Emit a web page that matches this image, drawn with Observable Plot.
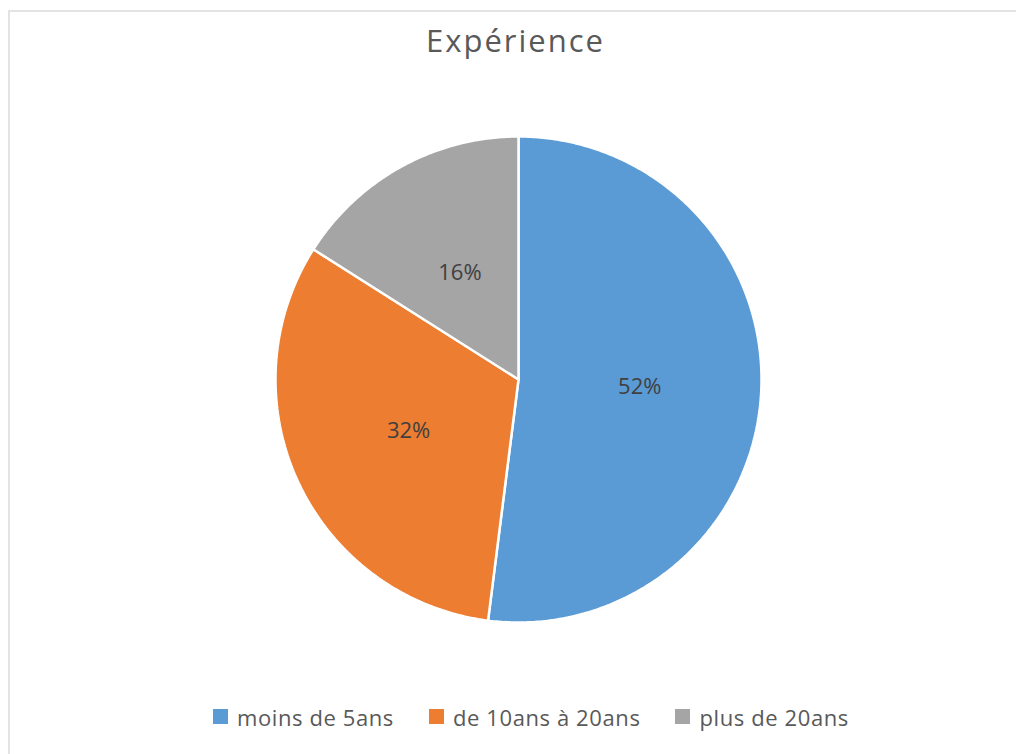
<!DOCTYPE html>
<html>
<head>
<meta charset="utf-8">
<script src="https://cdn.jsdelivr.net/npm/d3@7"></script>
<script src="https://cdn.jsdelivr.net/npm/@observablehq/plot@0.6"></script>
<style>
  body { margin: 0; background: #fff; font-family: "Open Sans", sans-serif; }
  #wrap { position: relative; width: 1016px; height: 754px; overflow: hidden; }
  #frame { position: absolute; left: 8px; top: 10px; width: 1100px; height: 900px;
           border-top: 2px solid #e3e3e3; border-left: 2px solid #e3e3e3; pointer-events: none; }
  #title { position: relative; height: 80px; line-height: 80px; text-align: left; padding-left: 426px;
           font-size: 31px; letter-spacing: 2px; color: #595959; box-sizing: border-box; }
  #chart svg { display: block; }
  #legend { position: relative; height: 74px; box-sizing: border-box; padding-left: 213px; padding-top: 20px; }
  .lg-swatch { margin-right: 35px !important; letter-spacing: 0.6px; }
  .lg-swatch > svg { margin-right: 9px !important; }
</style>
</head>
<body>
<div id="wrap">
  <div id="frame"></div>
  <div id="title">Expérience</div>
  <div id="chart"></div>
  <div id="legend"></div>
</div>
<script>
const categories = ["moins de 5ans", "de 10ans à 20ans", "plus de 20ans"];
const values = [52, 32, 16];
const colors = ["#5B9BD5", "#ED7D31", "#A5A5A5"];
const labels = ["52%", "32%", "16%"];

const data = categories.map((c, i) => ({category: c, value: values[i], label: labels[i]}));
const arcs = d3.pie().sort(null).value(d => d.value)(data);

// Build slice outlines from the pie angles (unit circle coordinates)
const outline = [];
for (const a of arcs) {
  const cat = a.data.category;
  outline.push({category: cat, x: 0, y: 0});
  const n = Math.max(2, Math.ceil((a.endAngle - a.startAngle) / 0.01));
  for (let k = 0; k <= n; k++) {
    const t = a.startAngle + (a.endAngle - a.startAngle) * k / n;
    outline.push({category: cat, x: Math.sin(t), y: Math.cos(t)});
  }
}
const labelPts = arcs.map(a => {
  const m = (a.startAngle + a.endAngle) / 2;
  return {x: 0.5 * Math.sin(m), y: 0.5 * Math.cos(m), text: a.data.label};
});

const cx = 518, cy = 299, r = 243;
const chart = Plot.plot({
  width: 1016,
  height: 600,
  margin: 0,
  style: {fontFamily: "Open Sans, sans-serif", background: "transparent"},
  x: {domain: [-1, 1], range: [cx - r, cx + r], axis: null},
  y: {domain: [-1, 1], range: [cy + r, cy - r], axis: null},
  color: {domain: categories, range: colors},
  marks: [
    Plot.line(outline, {x: "x", y: "y", z: "category", fill: "category", stroke: "white",
                        strokeWidth: 2.5, strokeLinejoin: "miter", curve: "linear-closed"}),
    Plot.text(labelPts, {x: "x", y: "y", text: "text", fill: "#404040", fontSize: 22})
  ]
});
document.getElementById("chart").appendChild(chart);

const legend = Plot.legend({
  color: {domain: categories, range: colors},
  legend: "swatches",
  swatchSize: 15,
  className: "lg",
  style: {fontSize: "22px", fontFamily: "Open Sans, sans-serif", color: "#595959"}
});
document.getElementById("legend").appendChild(legend);
</script>
</body>
</html>
